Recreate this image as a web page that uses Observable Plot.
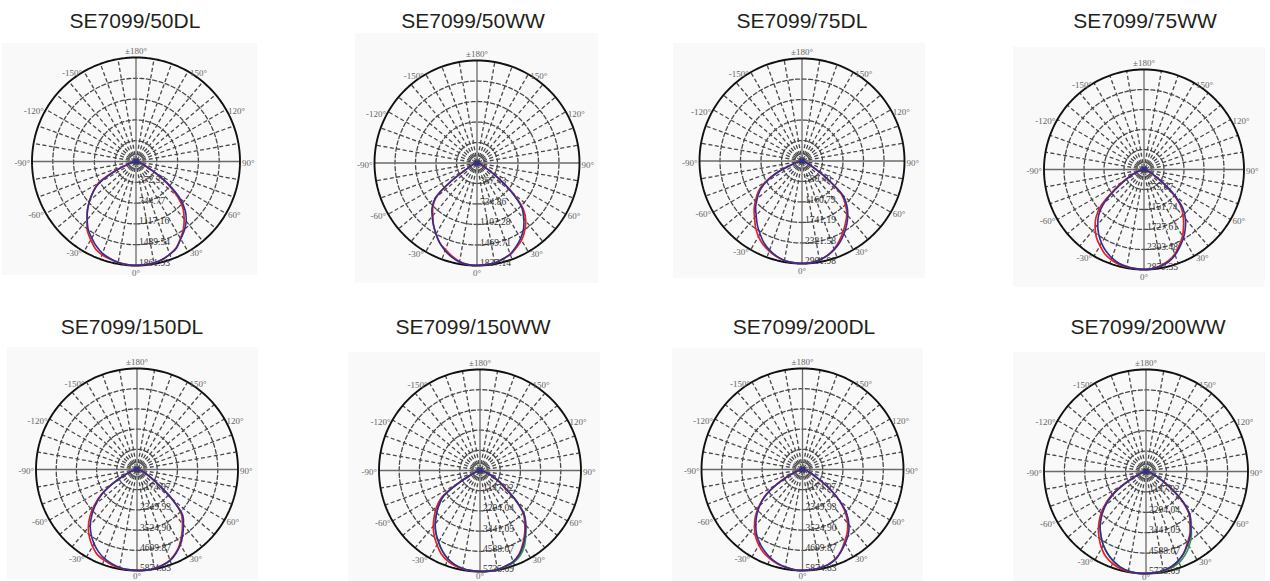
<!DOCTYPE html>
<html><head><meta charset="utf-8">
<script src="https://cdn.jsdelivr.net/npm/d3@7"></script>
<script src="https://cdn.jsdelivr.net/npm/@observablehq/plot@0.6"></script>
<style>
body{margin:0;background:#fff;}
#root{position:relative;width:1270px;height:581px;overflow:hidden;background:#fff;}
.title{position:absolute;font-family:"Liberation Sans",Arial,sans-serif;font-size:21px;line-height:21px;color:#231f20;white-space:nowrap;transform:translateX(-50%);}
.panel{position:absolute;background:#f9f9f9;}
.panel svg{display:block;overflow:visible;background:transparent;}
</style></head><body><div id="root"></div>
<script>
// ---------- data ----------
const titles = ["SE7099/50DL","SE7099/50WW","SE7099/75DL","SE7099/75WW","SE7099/150DL","SE7099/150WW","SE7099/200DL","SE7099/200WW"];
const maxValues = [1861.93, 1837.14, 2901.98, 2879.35, 5874.83, 5735.09, 5874.83, 5735.09];
const ringLabels = [
  ["372.39","744.77","1117.16","1489.54","1861.93"],
  ["367.43","734.86","1102.28","1469.71","1837.14"],
  ["580.40","1160.79","1741.19","2321.58","2901.98"],
  ["575.87","1151.74","1727.61","2303.48","2879.35"],
  ["1174.97","2349.93","3524.90","4699.87","5874.83"],
  ["1147.02","2294.04","3441.05","4588.07","5735.09"],
  ["1174.97","2349.93","3524.90","4699.87","5874.83"],
  ["1147.02","2294.04","3441.05","4588.07","5735.09"]
];
// gamma angles (deg from nadir), relative intensity in % of the outer ring value
const angles = [-90,-85,-80,-75,-70,-65,-60,-55,-50,-45,-40,-35,-30,-25,-20,-15,-10,-5,0,5,10,15,20,25,30,35,40,45,50,55,60,65,70,75,80,85,90];
const red_50DL  = [0,1,3,5,10,25,42,50,58,66,73,81.5,87,92.5,95.5,97,98.5,99.5,100,99.5,99,97.5,95,91.5,85.5,79.5,72,64,52,36,19,9,5,3,2,1,0];
const blue_50DL = [0,1,3,5,9,22,40,50,58,66,73,80,85,90,94,96.5,98.5,99.5,100,99.5,99,97.5,95,92,86,81,75,67,55,38,21,10,5,3,2,1,0];
const red_50WW  = [0,1,2,3,4,6,11,30,52,61,67,74,80,86,90,94,97.5,99.5,100,99.5,99,97,95,91,87,81,74,64,45,25,11,6,4,3,2,1,0];
const blue_50WW = [0,1,2,3,4,6,11,31,53,62,68,74,80,86,91,95,98,99.5,100,99.5,99,97,94.5,90,85,79,71,62,44,24,11,6,4,3,2,1,0];
const red_75DL  = [0,1,2,5,12,28,42,52,59,66,72,79,85,90,93.5,96.5,98.5,99.5,100,99.5,98,95.5,91.5,86,80,74,68,60,50,29,13,7,4,3,2,1,0];
const blue_75DL = [0,1,2,5,11,26,40,50,57,64,69.5,76,82,88,92.5,96,98.5,99.5,100,99.5,98,95.5,92,87.5,82,76,69.5,62,52,30,14,7,4,3,2,1,0];
const red_75WW  = [0,1,2,4,8,15,24,38,56,68,76,83,88,93,96,98,99,99.5,100,99.5,97.5,94.5,90,83.5,77,69,61,52,38,22,11,6,4,3,2,1,0];
const blue_75WW = [0,1,2,4,8,14,22,35,52,64,72,79,85,90,94,97,98.5,99.5,100,99.5,98,95.5,91,85,79,72,64.5,55,40,23,12,7,4,3,2,1,0];
const red_150DL  = [0,1,2,4,8,15,28,43,55,66,75,82,88,93,95.5,97.5,99,99.5,100,100,99.5,98,95.5,91,85,77.5,70,62,44,25,15,9,6,4,2,1,0];
const blue_150DL = [0,1,2,4,8,14,27,42,53,63,72,79,85,90,94,96.5,98.5,99.5,100,100,99.5,98,96,91.5,86,79,71.5,64,45,26,16,10,6,4,2,1,0];
const red_150WW   = [0,1,2,3,5,9,24,46,56,64,72,79,85,91,95,97.5,99,99.5,100,100,99.5,98,96,91.5,84.5,77,69,61,46,30,21,13,8,4,2,1,0];
const blue_150WW  = [0,1,2,3,5,9,23,44,53,61,69,76,82,88,93,96.5,98.5,99.5,100,100,99.5,98,96,92,85.5,78,70.5,62,47,31,22,14,8,4,2,1,0];
const green_150WW = [0,1,2,3,5,9,23,44,53,61,69,76,82,88,93,96.5,98.5,99.5,100,100,99.5,98.5,97,93.5,87.5,79,70.5,62,47,31,22,14,8,4,2,1,0];
const red_200DL  = [0,1,2,4,8,17,30,45,56,66,74,81,86.5,91,94,96.5,98,99.5,100,99.5,99,97.5,94.5,89.5,83,77,69.5,60,47,31,17,10,6,4,2,1,0];
const blue_200DL = [0,1,2,4,8,16,29,44,55,64,72,79,84.5,89,93,96,98,99.5,100,99.5,99,97.5,95,90,84.5,79,71.5,62,48,32,18,10,6,4,2,1,0];
const red_200WW   = [0,1,2,3,6,12,25,42,54,64,72.5,80,87,92.5,96,98.5,99.5,100,100,99.5,98.5,96.5,93,88,81,75,67,60,48,32,19,12,7,4,2,1,0];
const blue_200WW  = [0,1,2,3,6,12,24,40,52,61.5,70,77,83.5,89,93.5,97,99,100,100,99.5,98.5,96.5,93,88,82,76,68.5,61,49,33,20,12,7,4,2,1,0];
const green_200WW = [0,1,2,3,6,12,24,40,52,61.5,70,77,83.5,89,93.5,97,99,100,100,99.5,99,97.5,95,90.5,84.5,77.5,68.5,61,49,33,20,12,7,4,2,1,0];
const redSeries   = [red_50DL, red_50WW, red_75DL, red_75WW, red_150DL, red_150WW, red_200DL, red_200WW];
const blueSeries  = [blue_50DL, blue_50WW, blue_75DL, blue_75WW, blue_150DL, blue_150WW, blue_200DL, blue_200WW];
const greenSeries = [null, null, null, null, null, green_150WW, null, green_200WW];
const sideTickAngles = [-150,-120,-90,-60,-30,30,60,90,120,150];
const sideTickLabels = ["-150°","-120°","-90°","-60°","-30°","30°","60°","90°","120°","150°"];
const topLabel = "±180°", bottomLabel = "0°";

// ---------- layout (pixels) ----------
const layout = [
  {box:[2,43,255,232],   c:[135.5,161],   R:104,   t:[135,10],  bdy:8},
  {box:[355,33,243,250], c:[476.5,162.5], R:102.5, t:[473,10],  bdy:8},
  {box:[673,43,252,235], c:[801.5,160.5], R:102.5, t:[802,10],  bdy:8},
  {box:[1013,47,252,240],c:[1143.5,169],  R:100,   t:[1145,10], bdy:8},
  {box:[7,347,251,233],  c:[136.5,469],   R:101,   t:[132,316], bdy:6},
  {box:[348,352,252,229],c:[479.5,470],   R:101,   t:[473,316], bdy:5},
  {box:[672,348,251,233],c:[802,469],     R:101,   t:[804,316], bdy:6},
  {box:[1013,352,252,229],c:[1145.5,471], R:102,   t:[1148,316],bdy:4}
];
const RED = "#e3202a", BLUE = "#2e3192", GREEN = "#2f9a45";
const rad = d => d * Math.PI / 180;
const pt = (deg, r) => ({x: r * Math.sin(rad(deg)), y: -r * Math.cos(rad(deg))});
const SERIF = "Liberation Serif, serif";

const root = document.getElementById("root");
layout.forEach((L, i) => {
  const M = maxValues[i];
  const [bx, by, w, h] = L.box;
  const [cx, cy] = L.c;
  const R = L.R;

  const title = document.createElement("div");
  title.className = "title";
  title.style.left = L.t[0] + "px";
  title.style.top = L.t[1] + "px";
  title.textContent = titles[i];
  root.appendChild(title);

  const curve = arr => angles.map((a, k) => pt(a, arr[k] / 100 * M));
  const circle = r => d3.range(0, 361, 2).map(a => pt(a, r));
  const rings = [1,2,3,4].map(k => circle(k / 5 * M));
  const radials = d3.range(0, 360, 10).filter(a => a % 90 !== 0).map(a => ({a, ...pt(a, M)}));
  const axes = [0, 90, 180, 270].map(a => ({a, ...pt(a, M)}));
  const ticks = sideTickAngles.map((a, k) => ({a, label: sideTickLabels[k], ...pt(a, M)}));
  const neg = ticks.filter(d => d.a < 0);
  const pos = ticks.filter(d => d.a > 0);
  const ringText = ringLabels[i].map((s, k) => ({label: s, ...pt(0, (k + 1) / 5 * M)}));

  const marks = [];
  rings.forEach(ring => marks.push(Plot.line(ring, {x: "x", y: "y", stroke: "#4a4a4a", strokeWidth: 1.3, strokeDasharray: "4,2.5"})));
  marks.push(Plot.link(radials, {x1: 0, y1: 0, x2: "x", y2: "y", stroke: "#4a4a4a", strokeWidth: 1.3, strokeDasharray: "4,2.5"}));
  marks.push(Plot.link(axes, {x1: 0, y1: 0, x2: "x", y2: "y", stroke: "#6a6a6a", strokeWidth: 1.3}));
  marks.push(Plot.dot([{x: 0, y: 0}], {x: "x", y: "y", r: 5, stroke: "#555", strokeWidth: 1.2, strokeDasharray: "1.5,1", fill: "none"}));
  marks.push(Plot.line(circle(M), {x: "x", y: "y", stroke: "#111", strokeWidth: 1.9}));
  marks.push(Plot.text(ringText, {x: "x", y: "y", text: "label", textAnchor: "start", dx: 3, dy: -2.5, fontSize: 9.5, fontFamily: SERIF, fill: "#333"}));
  marks.push(Plot.text(neg, {x: "x", y: "y", text: "label", textAnchor: "end", dx: -2, dy: 2, fontSize: 9, fontFamily: SERIF, fill: "#666"}));
  marks.push(Plot.text(pos, {x: "x", y: "y", text: "label", textAnchor: "start", dx: 2, dy: 2, fontSize: 9, fontFamily: SERIF, fill: "#666"}));
  marks.push(Plot.text([pt(180, M)], {x: "x", y: "y", text: [topLabel], textAnchor: "middle", dy: -6, fontSize: 9, fontFamily: SERIF, fill: "#666"}));
  marks.push(Plot.text([pt(0, M)], {x: "x", y: "y", text: [bottomLabel], textAnchor: "middle", dy: L.bdy, fontSize: 9, fontFamily: SERIF, fill: "#666"}));
  if (greenSeries[i]) marks.push(Plot.line(curve(greenSeries[i]), {x: "x", y: "y", stroke: GREEN, strokeWidth: 1.6, curve: "catmull-rom"}));
  marks.push(Plot.line(curve(redSeries[i]), {x: "x", y: "y", stroke: RED, strokeWidth: 1.7, curve: "catmull-rom"}));
  marks.push(Plot.line(curve(blueSeries[i]), {x: "x", y: "y", stroke: BLUE, strokeWidth: 1.6, curve: "catmull-rom"}));
  marks.push(Plot.dot([{x: 0, y: 0}], {x: "x", y: "y", r: 2.5, fill: BLUE}));

  const svg = Plot.plot({
    width: w, height: h,
    marginLeft: cx - R - bx, marginRight: bx + w - (cx + R),
    marginTop: cy - R - by, marginBottom: by + h - (cy + R),
    x: {domain: [-M, M], axis: null},
    y: {domain: [-M, M], axis: null},
    style: {background: "transparent", overflow: "visible"},
    marks
  });
  const box = document.createElement("div");
  box.className = "panel";
  box.style.left = bx + "px"; box.style.top = by + "px";
  box.style.width = w + "px"; box.style.height = h + "px";
  box.appendChild(svg);
  root.appendChild(box);
});
</script>
</body></html>
